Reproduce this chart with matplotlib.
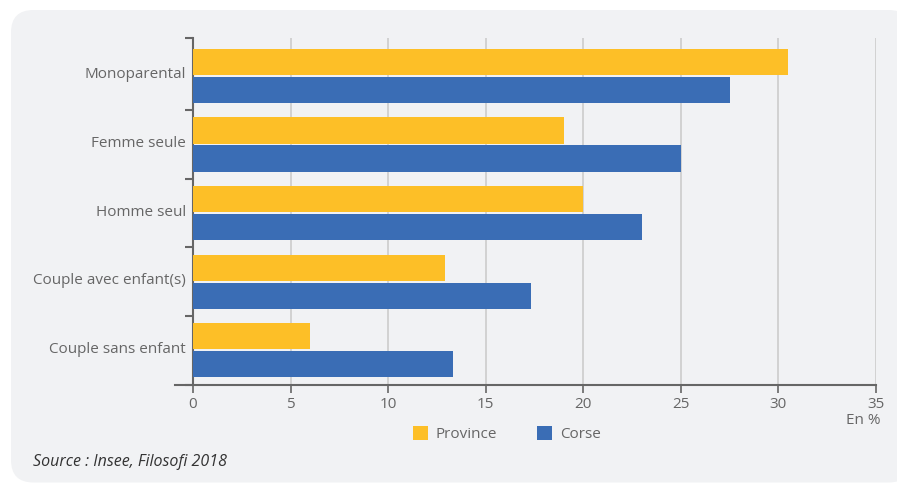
import numpy as np
import matplotlib
matplotlib.use("Agg")
from matplotlib import pyplot as plt
from matplotlib.patches import FancyBboxPatch
from matplotlib.transforms import ScaledTranslation

categories = ["Monoparental", "Femme seule", "Homme seul", "Couple avec enfant(s)", "Couple sans enfant"]
province = [30.5, 19.0, 20.0, 12.9, 6.0]
corse = [27.5, 25.0, 23.0, 17.3, 13.3]
xticks = [0, 5, 10, 15, 20, 25, 30, 35]

plt.rcParams['font.family'] = ['Open Sans', 'DejaVu Sans']
fs = 11.0

W, H = 897, 484
fig = plt.figure(figsize=(W / 100, H / 100), dpi=100)
fig.patch.set_facecolor('white')

# rounded grey panel behind everything
panel = FancyBboxPatch((11 / W, 1.5 / H), 900 / W, (H - 11.5) / H,
                       boxstyle="round,pad=0,rounding_size=0.025",
                       transform=fig.transFigure, facecolor='#f1f2f4', edgecolor='none',
                       mutation_aspect=W / H, zorder=-10)
fig.patches.append(panel)

ax = fig.add_axes([193 / W, 1 - 384.6 / H, (876 - 193) / W, (384.6 - 37.7) / H])
ax.set_facecolor('none')
ax.set_zorder(1)

n = len(categories)
top = -0.557
y = np.arange(n)
h = 0.383
gap = 0.026
ax.barh(y - (h + gap) / 2, province, height=h, color='#fdbf27', label='Province', zorder=3)
ax.barh(y + (h + gap) / 2, corse, height=h, color='#3a6db5', label='Corse', zorder=3)

ax.set_ylim(n - 0.5, top)
ax.set_xlim(0, 35)
ax.set_xticks(xticks)
ax.set_xticklabels([str(v) for v in xticks], fontsize=fs, color='#666666')
ax.set_yticks(y)
ax.set_yticklabels(categories, fontsize=fs, color='#666666')
ax.tick_params(axis='y', length=0, pad=5)
# labels sit a little above the bar pair centre
off = ScaledTranslation(0, 3 / 100, fig.dpi_scale_trans)
for lab in ax.get_yticklabels():
    lab.set_transform(lab.get_transform() + off)
ax.set_yticks([top] + list(np.arange(n) + 0.5), minor=True)
ax.tick_params(axis='y', which='minor', length=6, width=1.5, color='#666666')
ax.tick_params(axis='x', length=6, width=1.2, color='#666666', pad=3)

ax.grid(axis='x', color='#cccccc', linewidth=1.2, zorder=0)
for s in ['top', 'right']:
    ax.spines[s].set_visible(False)
ax.spines['left'].set_color('#666666')
ax.spines['left'].set_linewidth(1.5)
ax.spines['bottom'].set_visible(False)
# bottom axis line extending slightly left
ax.plot([-0.9, 35], [n - 0.5] * 2, color='#666666', lw=1.5,
        clip_on=False, zorder=4)

fig.text(880 / W, 1 - 421 / H, "En %", ha='right', va='center', fontsize=fs, color='#666666')

leg = ax.legend(loc='center', bbox_to_anchor=(507 / W, 1 - 434 / H), bbox_transform=fig.transFigure,
                ncol=2, frameon=False, fontsize=fs, handlelength=1.0, handleheight=1.0,
                columnspacing=2.6, handletextpad=0.5)
for t in leg.get_texts():
    t.set_color('#666666')

fig.text(33 / W, 1 - 462 / H, "Source : Insee, Filosofi 2018", ha='left', va='center',
         fontsize=11.5, style='italic', color='#333333')

fig.savefig('out.png', dpi=100)
